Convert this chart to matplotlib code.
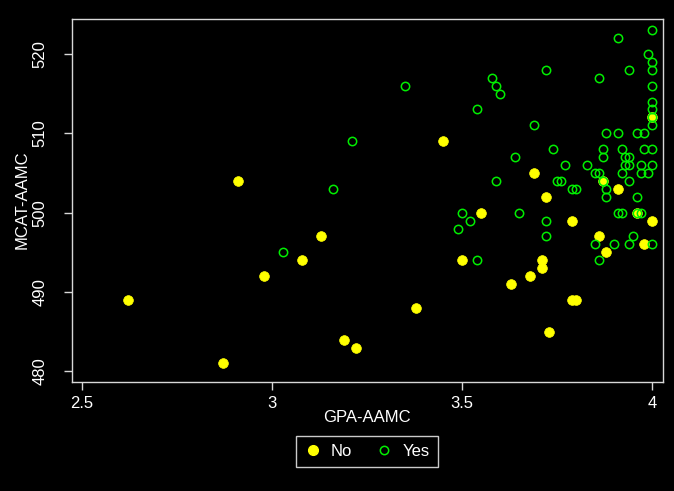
import matplotlib
matplotlib.use("Agg")
import matplotlib.pyplot as plt
from matplotlib.lines import Line2D

plt.rcParams['font.family'] = ['Liberation Sans', 'DejaVu Sans']

# "No" group (filled yellow)
no_gpa = [2.62, 2.87, 2.91, 2.98, 3.08, 3.13, 3.19, 3.22, 3.38, 3.45, 3.50, 3.55,
          3.63, 3.68, 3.69, 3.71, 3.71, 3.72, 3.73, 3.79, 3.79, 3.80, 3.86, 3.87,
          3.88, 3.91, 3.96, 3.98, 4.00, 4.00]
no_mcat = [489, 481, 504, 492, 494, 497, 484, 483, 488, 509, 494, 500,
           491, 492, 505, 494, 493, 502, 485, 499, 489, 489, 497, 504,
           495, 503, 500, 496, 499, 512]

# "Yes" group (open green)
yes_gpa = [4.00, 3.91, 3.99, 4.00, 4.00, 3.72, 3.94, 3.58, 3.86, 3.59, 4.00, 3.35,
           3.60, 4.00, 3.54, 4.00, 4.00, 4.00, 3.69, 3.88, 3.91, 3.96, 3.98, 3.21,
           3.74, 3.87, 3.92, 3.98, 4.00, 3.64, 3.87, 3.93, 3.94, 3.77, 3.83, 3.93,
           3.94, 3.97, 4.00, 3.85, 3.86, 3.92, 3.97, 3.99, 3.59, 3.75, 3.76, 3.94,
           3.87, 3.16, 3.79, 3.80, 3.88, 3.88, 3.96, 3.50, 3.65, 3.91, 3.92, 3.96,
           3.97, 3.52, 3.72, 3.49, 3.72, 3.95, 3.85, 3.90, 3.94, 4.00, 3.03, 3.54,
           3.86]
yes_mcat = [523, 522, 520, 519, 518, 518, 518, 517, 517, 516, 516, 516,
            515, 514, 513, 513, 512, 511, 511, 510, 510, 510, 510, 509,
            508, 508, 508, 508, 508, 507, 507, 507, 507, 506, 506, 506,
            506, 506, 506, 505, 505, 505, 505, 505, 504, 504, 504, 504,
            504, 503, 503, 503, 503, 502, 502, 500, 500, 500, 500, 500,
            500, 499, 499, 498, 497, 497, 496, 496, 496, 496, 495, 494,
            494]

x_ticks = [2.5, 3.0, 3.5, 4.0]
x_tick_labels = ["2.5", "3", "3.5", "4"]
y_ticks = [480, 490, 500, 510, 520]
y_tick_labels = ["480", "490", "500", "510", "520"]

W, H = 674, 491
fig = plt.figure(figsize=(W / 100, H / 100), dpi=100, facecolor='black')
ax = fig.add_axes([71.7 / W, 1 - 381.7 / H, (663 - 71.7) / W, (381.7 - 19) / H])
ax.set_facecolor('black')

YEL = '#FFFF00'
GRN = '#00EE00'
ax.plot(no_gpa, no_mcat, linestyle='none', marker='o', markersize=7.0,
        markerfacecolor=YEL, markeredgecolor=YEL, markeredgewidth=0.5)
ax.plot(yes_gpa, yes_mcat, linestyle='none', marker='o', markersize=6.0,
        markerfacecolor='none', markeredgecolor=GRN, markeredgewidth=1.1)

ax.set_xlim(2.473, 4.029)
ax.set_ylim(478.7, 524.4)

for s in ax.spines.values():
    s.set_color('#d8d8d8')
    s.set_linewidth(1.0)

FS = 12
ax.set_xticks(x_ticks)
ax.set_xticklabels(x_tick_labels)
ax.set_yticks(y_ticks)
ax.set_yticklabels(y_tick_labels, rotation=90, va='center')
ax.tick_params(axis='both', colors='#d8d8d8', labelcolor='white', direction='out',
               length=5.5, width=1.0, labelsize=FS)
ax.tick_params(axis='x', pad=5)
ax.tick_params(axis='y', pad=12)

fig.text(367 / W, 1 - 418 / H, "GPA-AAMC", color='white', fontsize=FS,
         ha='center', va='center')
fig.text(22 / W, 1 - 200 / H, "MCAT-AAMC", color='white', fontsize=FS,
         ha='center', va='center', rotation=90)

handles = [
    Line2D([], [], linestyle='none', marker='o', markersize=7.0,
           markerfacecolor=YEL, markeredgecolor=YEL),
    Line2D([], [], linestyle='none', marker='o', markersize=6.0,
           markerfacecolor='none', markeredgecolor=GRN, markeredgewidth=1.1),
]
leg = fig.legend(handles, ["No", "Yes"], loc='center',
                 bbox_to_anchor=(367 / W, 1 - 451.5 / H), ncol=2,
                 frameon=True, fancybox=False, facecolor='black',
                 edgecolor='white', fontsize=FS, handlelength=1.0,
                 handletextpad=0.6, columnspacing=1.4, borderpad=0.5)
leg.get_frame().set_linewidth(1.0)
for t in leg.get_texts():
    t.set_color('white')

fig.savefig("out.png", dpi=100, facecolor='black')
